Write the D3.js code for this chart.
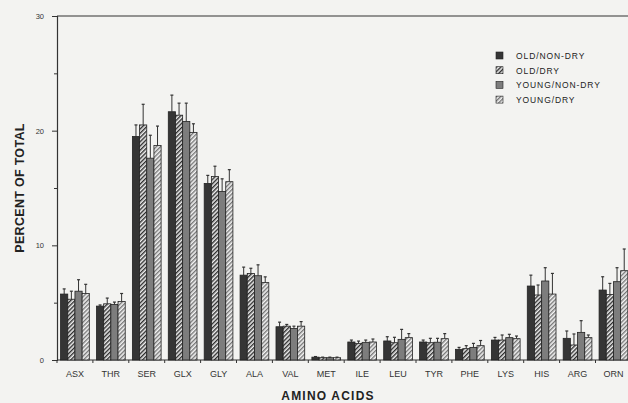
<!DOCTYPE html>
<html>
<head>
<meta charset="utf-8">
<script src="https://cdn.jsdelivr.net/npm/d3@7"></script>
<style>
  body { margin: 0; background: #f3f3f1; }
  svg { display: block; font-family: "Liberation Sans", Arial, sans-serif; }
</style>
</head>
<body>
<div id="chart"></div>
<script>
  "use strict";

  var aminoAcids = ["ASX", "THR", "SER", "GLX", "GLY", "ALA", "VAL", "MET",
                    "ILE", "LEU", "TYR", "PHE", "LYS", "HIS", "ARG", "ORN"];
  var seriesNames = ["OLD/NON-DRY", "OLD/DRY", "YOUNG/NON-DRY", "YOUNG/DRY"];

  var oldNonDry     = [5.75, 4.7, 19.5, 21.65, 15.4, 7.4, 2.9, 0.25, 1.57, 1.66, 1.57, 0.93, 1.74, 6.45, 1.89, 6.1];
  var oldNonDrySd   = [0.45, 0.1, 1.0, 1.45, 0.7, 0.7, 0.4, 0.05, 0.17, 0.37, 0.17, 0.17, 0.23, 0.95, 0.64, 1.16];
  var oldDry        = [5.3, 4.9, 20.5, 21.35, 16.0, 7.55, 2.95, 0.2, 1.45, 1.51, 1.51, 0.99, 1.74, 5.67, 1.31, 5.72];
  var oldDrySd      = [0.7, 0.5, 1.8, 1.05, 0.9, 0.45, 0.15, 0.05, 0.2, 0.47, 0.38, 0.26, 0.44, 0.87, 0.96, 0.96];
  var youngNonDry   = [6.0, 4.85, 17.6, 20.8, 14.7, 7.35, 2.75, 0.2, 1.54, 1.8, 1.55, 1.1, 1.95, 6.89, 2.41, 6.83];
  var youngNonDrySd = [1.0, 0.2, 2.0, 1.6, 1.1, 0.95, 0.2, 0.05, 0.2, 0.87, 0.34, 0.35, 0.29, 1.16, 1.02, 1.22];
  var youngDry      = [5.8, 5.1, 18.7, 19.85, 15.55, 6.75, 2.95, 0.2, 1.57, 1.95, 1.86, 1.25, 1.86, 5.75, 1.95, 7.79];
  var youngDrySd    = [0.8, 0.7, 1.7, 0.75, 1.05, 0.5, 0.4, 0.05, 0.26, 0.35, 0.44, 0.45, 0.23, 1.8, 0.23, 1.89];

  var yTicks = [0, 10, 20, 30];
  var yMinorTicks = [5, 15, 25];

  (function() {
    var seriesValues = [oldNonDry, oldDry, youngNonDry, youngDry];
    var seriesSd = [oldNonDrySd, oldDrySd, youngNonDrySd, youngDrySd];

    var width = 628, height = 403;
    var left = 57, plotTop = 16, bottom = 360;

    var svg = d3.select("#chart").append("svg")
      .attr("width", width)
      .attr("height", height);

    // fills: solid dark, dark hatch, mid grey, light hatch
    var defs = svg.append("defs");
    function hatch(id, bg, fg) {
      var p = defs.append("pattern")
        .attr("id", id)
        .attr("patternUnits", "userSpaceOnUse")
        .attr("width", 3).attr("height", 3)
        .attr("patternTransform", "rotate(45)");
      p.append("rect").attr("width", 3).attr("height", 3).attr("fill", bg);
      p.append("rect").attr("width", 1.4).attr("height", 3).attr("fill", fg);
    }
    hatch("darkHatch", "#eeeeee", "#2e2e2e");
    hatch("lightHatch", "#f4f4f4", "#777");
    var fills = ["#353535", "url(#darkHatch)", "#7d7d7d", "url(#lightHatch)"];

    var x = d3.scaleBand()
      .domain(aminoAcids)
      .range([left, left + 16 * 35.9])
      .paddingInner(0.2)
      .paddingOuter(0.1);

    var xSeries = d3.scaleBand()
      .domain(d3.range(seriesNames.length))
      .range([0, x.bandwidth()]);

    var y = d3.scaleLinear()
      .domain([0, 30])
      .range([bottom, plotTop]);

    // frame top line
    svg.append("line")
      .attr("x1", left).attr("x2", width)
      .attr("y1", y(30)).attr("y2", y(30))
      .attr("stroke", "#333").attr("stroke-width", 1.2);

    // y axis
    var yAxis = svg.append("g")
      .attr("transform", `translate(${left},0)`)
      .call(d3.axisLeft(y).tickValues(yTicks).tickSize(5).tickPadding(8));
    yAxis.select(".domain").attr("stroke", "#333").attr("stroke-width", 1.2);
    yAxis.selectAll(".tick line").attr("stroke", "#333");
    yAxis.selectAll("text").attr("font-size", 7.5).attr("fill", "#333");
    svg.append("g")
      .attr("transform", `translate(${left},0)`)
      .call(d3.axisLeft(y).tickValues(yMinorTicks).tickSize(3).tickFormat(""))
      .call(g => g.select(".domain").remove())
      .selectAll(".tick line").attr("stroke", "#333");

    // x axis with ticks between groups
    var xAxis = svg.append("g")
      .attr("transform", `translate(0,${bottom})`)
      .call(d3.axisBottom(x).tickSize(0).tickPadding(11));
    xAxis.select(".domain").attr("d", `M${left},0H${width}`).attr("stroke", "#333").attr("stroke-width", 1.2);
    xAxis.selectAll("text").attr("font-size", 9).attr("fill", "#333");
    xAxis.selectAll(".sep")
      .data(aminoAcids)
      .join("line")
      .attr("class", "sep")
      .attr("x1", d => x(d) - x.step() * x.paddingInner() / 2)
      .attr("x2", d => x(d) - x.step() * x.paddingInner() / 2)
      .attr("y1", 0).attr("y2", 3)
      .attr("stroke", "#333");

    // bars with error bars
    var groups = svg.append("g").selectAll("g")
      .data(aminoAcids)
      .join("g")
      .attr("transform", d => `translate(${x(d)},0)`);

    groups.each(function(acid, i) {
      var g = d3.select(this);
      seriesNames.forEach(function(name, s) {
        var v = seriesValues[s][i], sd = seriesSd[s][i];
        var bx = xSeries(s), bw = xSeries.bandwidth();
        var cx = bx + bw / 2;
        g.append("line")
          .attr("x1", cx).attr("x2", cx)
          .attr("y1", y(v)).attr("y2", y(v + sd))
          .attr("stroke", "#333").attr("stroke-width", 1);
        g.append("line")
          .attr("x1", cx - 1.5).attr("x2", cx + 1.5)
          .attr("y1", y(v + sd)).attr("y2", y(v + sd))
          .attr("stroke", "#333").attr("stroke-width", 1.2);
        g.append("rect")
          .attr("x", bx).attr("width", bw)
          .attr("y", y(v)).attr("height", y(0) - y(v))
          .attr("fill", fills[s])
          .attr("stroke", "#222").attr("stroke-width", 0.8);
      });
    });

    // axis titles
    svg.append("text")
      .attr("transform", "translate(24,188) rotate(-90)")
      .attr("text-anchor", "middle")
      .attr("font-size", 12.5).attr("font-weight", "bold").attr("fill", "#222")
      .attr("letter-spacing", 0.3)
      .text("PERCENT OF TOTAL");

    svg.append("text")
      .attr("x", 328).attr("y", 400)
      .attr("text-anchor", "middle")
      .attr("font-size", 12).attr("font-weight", "bold").attr("fill", "#222")
      .attr("letter-spacing", 1.2)
      .text("AMINO ACIDS");

    // legend
    var legend = svg.append("g").attr("transform", "translate(496,52)");
    var rows = legend.selectAll("g")
      .data(seriesNames)
      .join("g")
      .attr("transform", (d, i) => `translate(0,${i * 14.7})`);
    rows.append("rect")
      .attr("width", 7).attr("height", 7)
      .attr("fill", (d, i) => fills[i])
      .attr("stroke", "#222").attr("stroke-width", 0.6);
    rows.append("text")
      .attr("x", 20).attr("y", 6.8)
      .attr("font-size", 8.5).attr("fill", "#222")
      .attr("letter-spacing", 0.9)
      .text(d => d);
  })();
</script>
</body>
</html>
